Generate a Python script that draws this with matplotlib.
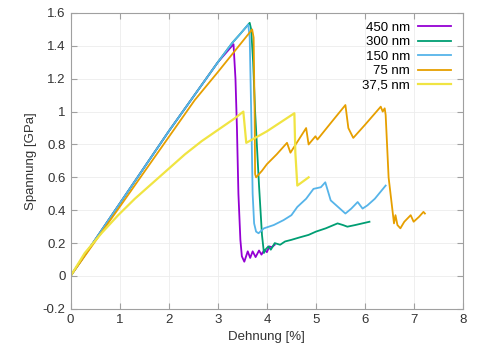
import numpy as np
import matplotlib
matplotlib.use('Agg')
import matplotlib.pyplot as plt
from matplotlib.ticker import FuncFormatter

# 450 nm
x450 = [0, 1, 2, 3, 3.32, 3.36, 3.39, 3.42, 3.46, 3.49, 3.54, 3.61, 3.66, 3.71, 3.77,
        3.84, 3.89, 3.95, 4.00, 4.05, 4.10, 4.16]
y450 = [0, 0.44, 0.88, 1.30, 1.41, 1.20, 0.90, 0.50, 0.22, 0.12, 0.087, 0.15, 0.11, 0.15, 0.115,
        0.155, 0.13, 0.16, 0.145, 0.18, 0.175, 0.19]

# 300 nm
x300 = [0, 1, 2, 3, 3.3, 3.45, 3.65, 3.68, 3.72, 3.76, 3.84, 3.90, 3.94, 3.97, 4.03,
        4.08, 4.16, 4.27, 4.37, 4.50, 4.67, 4.85, 5.0, 5.2, 5.44, 5.55, 5.64, 5.80, 6.09]
y300 = [0, 0.44, 0.88, 1.30, 1.42, 1.47, 1.54, 1.50, 1.30, 1.00, 0.55, 0.25, 0.14, 0.16, 0.18,
        0.16, 0.20, 0.19, 0.21, 0.22, 0.235, 0.25, 0.27, 0.29, 0.32, 0.31, 0.30, 0.31, 0.33]

# 150 nm
x150 = [0, 1, 2, 3, 3.3, 3.45, 3.62, 3.65, 3.68, 3.71, 3.74, 3.78, 3.83, 3.94, 4.14,
        4.34, 4.50, 4.62, 4.80, 4.95, 5.10, 5.19, 5.30, 5.45, 5.60, 5.72, 5.85, 5.95,
        6.05, 6.20, 6.42]
y150 = [0, 0.44, 0.88, 1.30, 1.42, 1.47, 1.53, 1.45, 1.00, 0.50, 0.32, 0.27, 0.26, 0.29, 0.31,
        0.34, 0.37, 0.42, 0.47, 0.53, 0.54, 0.57, 0.46, 0.42, 0.38, 0.41, 0.45, 0.41,
        0.43, 0.47, 0.55]

# 75 nm
x75 = [0, 1, 2, 2.53, 3, 3.70, 3.73, 3.75, 3.76, 3.78, 3.90, 4.00, 4.20, 4.41, 4.48, 4.80,
       4.85, 4.99, 5.03, 5.30, 5.60, 5.66, 5.76, 6.00, 6.32, 6.36, 6.40, 6.42, 6.48,
       6.59, 6.62, 6.66, 6.72, 6.80, 6.93, 6.99, 7.10, 7.19, 7.22]
y75 = [0, 0.42, 0.845, 1.07, 1.24, 1.50, 1.45, 1.00, 0.62, 0.60, 0.64, 0.68, 0.74, 0.81, 0.75, 0.90,
       0.80, 0.85, 0.83, 0.93, 1.04, 0.90, 0.84, 0.92, 1.03, 1.00, 1.02, 0.98, 0.60,
       0.32, 0.37, 0.31, 0.29, 0.33, 0.37, 0.33, 0.36, 0.39, 0.38]

# 37,5 nm
x37 = [0, 0.29, 0.63, 0.97, 1.31, 1.65, 1.99, 2.33, 2.67, 3.01, 3.35, 3.52, 3.58,
       4.00, 4.56, 4.58, 4.62, 4.85]
y37 = [0, 0.14, 0.26, 0.37, 0.47, 0.56, 0.65, 0.74, 0.82, 0.89, 0.96, 1.00, 0.81,
       0.88, 0.99, 0.75, 0.55, 0.60]

series = [
    (x450, y450, '450 nm', '#9400d3', 1.3),
    (x300, y300, '300 nm', '#009e73', 1.3),
    (x150, y150, '150 nm', '#56b4e9', 1.3),
    (x75, y75, '75 nm', '#e69f00', 1.3),
    (x37, y37, '37,5 nm', '#f0e442', 1.6),
]

plt.rcParams['font.family'] = ['Liberation Sans', 'DejaVu Sans']
plt.rcParams['font.size'] = 9.5

fig = plt.figure(figsize=(4.8, 3.6), dpi=100)
ax = fig.add_axes([0.147, 0.142, 0.818, 0.822])

for xs, ys, label, color, lw in series:
    ax.plot(xs, ys, color=color, lw=lw, label=label)

ax.set_xlim(0, 8)
ax.set_ylim(-0.2, 1.6)
ax.set_xticks(np.arange(0, 9, 1))
ax.set_yticks(np.arange(-0.2, 1.61, 0.2))
ax.yaxis.set_major_formatter(FuncFormatter(lambda v, p: '%g' % round(v, 2)))
ax.grid(True, color='#ececec', lw=0.6)
ax.set_axisbelow(True)
for s in ax.spines.values():
    s.set_color('#a0a0a0')
ax.tick_params(direction='in', length=4, color='#a0a0a0', top=True, right=True,
               labelcolor='#333333')

ax.set_xlabel('Dehnung [%]', color='#333333')
ax.set_ylabel('Spannung [GPa]', color='#333333')

ax.legend(loc='upper right', frameon=False, markerfirst=False, handlelength=2.5,
          handletextpad=0.6, labelspacing=0.17, borderaxespad=0.25, fontsize=9.5,
          bbox_to_anchor=(0.99, 1.0))

fig.savefig('out.png', dpi=100)
